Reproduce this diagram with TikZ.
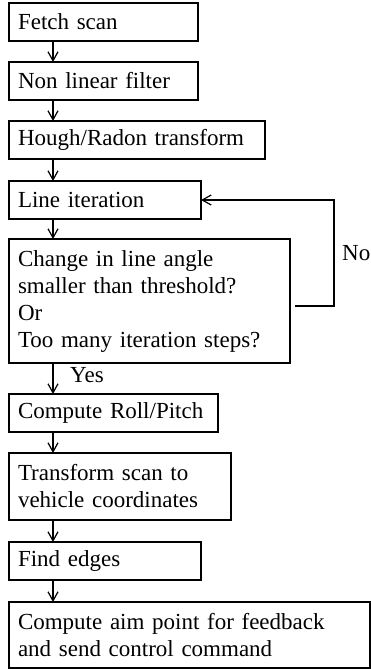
\documentclass[tikz,border=0pt]{standalone}
\usepackage{fontspec}
\setmainfont{Liberation Serif}
\usepackage{tikz}
\usetikzlibrary{arrows.meta}
\usetikzlibrary{positioning}

\begin{document}
\begin{tikzpicture}[
StepBox/.style={draw,line width=0.6bp,outer sep=0pt,anchor=north west,align=left,inner xsep=4.5bp,inner ysep=1bp,minimum height=19bp},
Flow/.style={draw,line width=0.6bp,-{Straight Barb[length=4.5bp,width=5bp]}},
every node/.style={font=\fontsize{11.5bp}{13.5bp}\selectfont}
]
\useasboundingbox (0,0) rectangle (185.5bp,-334.5bp);

\node[StepBox,text width=85.5bp] (fetch) at (4.5bp,-1.5bp) {Fetch scan};
\node[StepBox,text width=85.5bp,below=10.5bp of fetch.south west,anchor=north west] (filter) {Non linear filter};
\node[StepBox,text width=119bp,below=10.5bp of filter.south west,anchor=north west] (hough) {Hough/Radon transform};
\node[StepBox,text width=87bp,below=11bp of hough.south west,anchor=north west] (iter) {Line iteration};
\node[StepBox,text width=131.5bp,minimum height=62bp,below=10bp of iter.south west,anchor=north west] (cond)
  {Change in line angle\\smaller than threshold?\\Or\\Too many iteration steps?};
\node[StepBox,text width=95.5bp,below=15.5bp of cond.south west,anchor=north west] (roll) {Compute Roll/Pitch};
\node[StepBox,text width=102bp,minimum height=33.5bp,below=10.5bp of roll.south west,anchor=north west] (vehicle)
  {Transform scan to\\vehicle coordinates};
\node[StepBox,text width=87bp,below=11bp of vehicle.south west,anchor=north west] (edges) {Find edges};
\node[StepBox,text width=171.5bp,minimum height=33bp,below=11bp of edges.south west,anchor=north west] (aim)
  {Compute aim point for feedback\\and send control command};

\coordinate (spine) at (26.5bp,0);
\coordinate[right=66.5bp of iter.east] (loop);

\draw[Flow] (fetch.south -| spine) -- (filter.north -| spine);
\draw[Flow] (filter.south -| spine) -- (hough.north -| spine);
\draw[Flow] (hough.south -| spine) -- (iter.north -| spine);
\draw[Flow] (iter.south -| spine) -- (cond.north -| spine);
\draw[Flow] (cond.south -| spine) -- node (yes) [pos=0.4,right=5bp] {Yes} (roll.north -| spine);
\draw[Flow] (roll.south -| spine) -- (vehicle.north -| spine);
\draw[Flow] (vehicle.south -| spine) -- (edges.north -| spine);
\draw[Flow] (edges.south -| spine) -- (aim.north -| spine);

\draw[Flow] ([xshift=2.5bp,yshift=-2.5bp]cond.east) -| node (no) [pos=0.75,right=0.5bp] {No} (loop) -- (iter.east);

\end{tikzpicture}
\end{document}
